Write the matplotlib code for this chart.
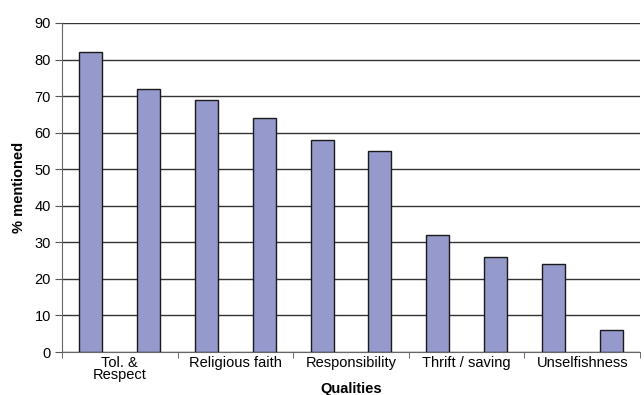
import numpy as np
import matplotlib

matplotlib.use("Agg")
import matplotlib.pyplot as plt

# values, one per bar (left to right)
values = [82, 72, 69, 64, 58, 55, 32, 26, 24, 6]
# only every other pair of bars carries a label, centred between the pair
labels = ["Tol. &\nRespect", "Religious faith", "Responsibility", "Thrift / saving", "Unselfishness"]
yticks = [0, 10, 20, 30, 40, 50, 60, 70, 80, 90]

plt.rcParams["font.family"] = ["Liberation Sans", "DejaVu Sans"]

fig = plt.figure(figsize=(6.44, 3.95), dpi=100)
ax = fig.add_axes([62 / 644, 1 - 352 / 395, 578 / 644, 329 / 395])

x = np.arange(len(values))
ax.bar(x, values, width=0.4, color="#9599CC", edgecolor="#1a1a1a", linewidth=1, zorder=3)

ax.set_xlim(-0.5, len(values) - 0.5)
ax.set_ylim(0, 90)
ax.set_yticks(yticks)
ax.yaxis.grid(True, color="#333333", linewidth=1, zorder=0)

# tick marks at category boundaries, labels between bar pairs
ax.set_xticks(np.arange(-0.5, len(values)), minor=True)
ax.set_xticks(np.arange(0.5, len(values), 2))
ax.set_xticklabels(labels, fontsize=10.5, linespacing=0.8)
ax.tick_params(axis="x", which="major", length=0, pad=3)
ax.tick_params(axis="x", which="minor", length=4, color="#555555")
ax.tick_params(axis="y", length=5, color="#555555", labelsize=10.5, pad=3)

for side in ["top", "right"]:
    ax.spines[side].set_visible(False)
ax.spines["left"].set_color("#666666")
ax.spines["bottom"].set_color("#666666")

ax.set_ylabel("% mentioned", fontsize=10.5, fontweight="bold", labelpad=6)
ax.set_xlabel("Qualities", fontsize=10.5, fontweight="bold", labelpad=0)

fig.savefig("out.png", dpi=100)
